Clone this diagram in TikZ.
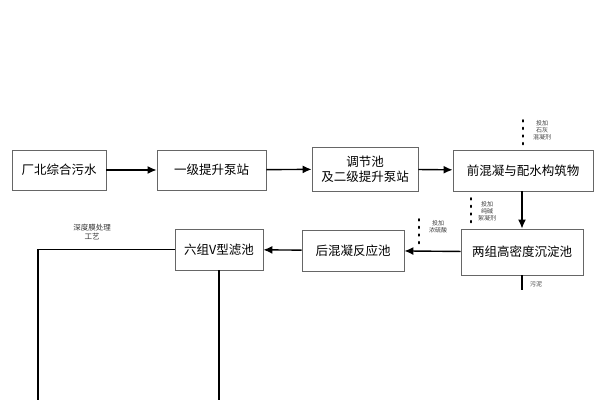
\documentclass[tikz,border=0pt]{standalone}
\usepackage{fontspec}
\newfontfamily\cjk{Noto Sans CJK SC}
\usetikzlibrary{arrows.meta}
\begin{document}
\begin{tikzpicture}[x=1pt,y=-1pt,
 box/.style={draw=black!60,line width=0.8pt,inner sep=0pt,font=\cjk\fontsize{12.5}{15}\selectfont,align=center},
 flow/.style={line width=1.4pt,-{Latex[length=9pt,width=8pt]}},
 pipe/.style={line width=1.4pt},
 dots/.style={line width=1.8pt,dash pattern=on 1.6pt off 6pt,line cap=round},
 small/.style={font=\cjk\fontsize{6}{7}\selectfont,align=center,text=black!75}]
\useasboundingbox[fill=white] (0,0) rectangle (600,400);
\node[box,minimum width=94,minimum height=40] (b1) at (59,170) {厂北综合污水};
\node[box,minimum width=109,minimum height=40] (b2) at (211.5,170) {一级提升泵站};
\node[box,minimum width=106,minimum height=44] (b3) at (365,169) {调节池\\及二级提升泵站};
\node[box,minimum width=140,minimum height=41] (b4) at (523,170.5) {前混凝与配水构筑物};
\node[box,minimum width=122,minimum height=46] (b5) at (522,252) {两组高密度沉淀池};
\node[box,minimum width=102,minimum height=41] (b6) at (353,250.5) {后混凝反应池};
\node[box,minimum width=88,minimum height=41] (b7) at (219,249.5) {六组V型滤池};
\draw[flow] (b1) -- (b2);
\draw[flow] (b2) -- (b3);
\draw[flow] (b3) -- (b4);
\draw[flow] (b4.south -| b5) -- (b5.north);
\draw[flow] (b5) -- (b6);
\draw[flow] (b6) -- (b7);
\coordinate (e1) at (38,400);
\coordinate (e2) at (219,400);
\coordinate (e3) at (522,290);
\draw[pipe] (b7.west) -- (b7.west -| e1) -- (e1);
\draw[pipe] (b7.south) -- (e2);
\draw[pipe] (b5.south) -- (e3);
\coordinate (d1) at (523,120);
\draw[dots] (d1) -- (b4.north -| d1);
\coordinate (d2) at (471,198);
\coordinate (d2e) at (471,228);
\draw[dots] (d2) -- (d2e);
\coordinate (d3) at (419,219);
\coordinate (d3e) at (419,246);
\draw[dots] (d3) -- (d3e);
\node[small] (t1) at (542,130) {投加\\石灰\\混凝剂};
\node[small] (t2) at (487,211) {投加\\纯碱\\絮凝剂};
\node[small] (t3) at (438,227) {投加\\浓硫酸};
\node[small] (t4) at (536,284) {污泥};
\node[font=\cjk\fontsize{7.5}{9}\selectfont,align=center,text=black!80] (t5) at (92,232) {深度膜处理\\工艺};
\end{tikzpicture}
\end{document}
